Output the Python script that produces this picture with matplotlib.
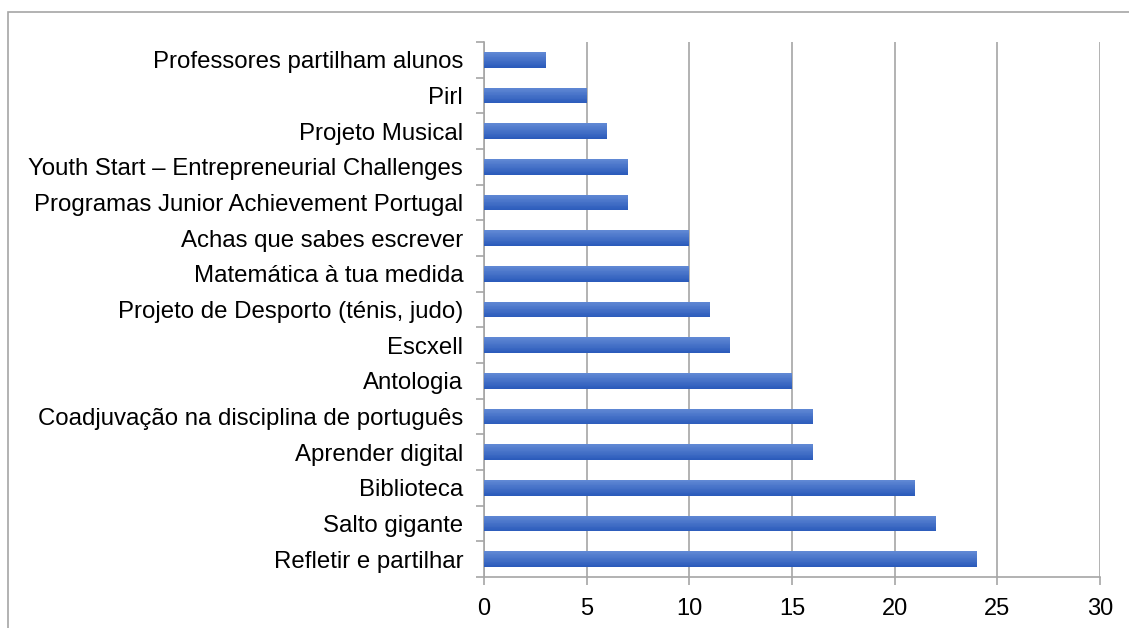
import matplotlib
matplotlib.use("Agg")
import matplotlib.pyplot as plt
import numpy as np
from matplotlib.patches import Rectangle
from matplotlib.colors import LinearSegmentedColormap

categories = [
    "Professores partilham alunos",
    "Pirl",
    "Projeto Musical",
    "Youth Start – Entrepreneurial Challenges",
    "Programas Junior Achievement Portugal",
    "Achas que sabes escrever",
    "Matemática à tua medida",
    "Projeto de Desporto (ténis, judo)",
    "Escxell",
    "Antologia",
    "Coadjuvação na disciplina de português",
    "Aprender digital",
    "Biblioteca",
    "Salto gigante",
    "Refletir e partilhar",
]
values = [3, 5, 6, 7, 7, 10, 10, 11, 12, 15, 16, 16, 21, 22, 24]
xticks = [0, 5, 10, 15, 20, 25, 30]

plt.rcParams['font.family'] = ['Liberation Sans', 'DejaVu Sans']

W, H = 1129, 628
fig = plt.figure(figsize=(W/100, H/100), dpi=100)
ax = fig.add_axes([484/W, 1-577/H, (1100-484)/W, (577-42)/H])

n = len(categories)
ypos = np.arange(n)
bh = 0.44
bars = ax.barh(ypos, values, height=bh, color='#4472c4', zorder=3)

# gradient fill: lighter at visual top (smaller y, axis inverted), darker at bottom
cmap = LinearSegmentedColormap.from_list('g', ['#6088d4', '#2b5bbb'])
m = 20
for b in bars:
    x0, y0 = b.get_x(), b.get_y()
    w, h = b.get_width(), b.get_height()
    b.set_alpha(0)
    for k in range(m):
        ax.barh(y0 + (k + 0.5) * h / m, w, left=x0, height=h / m * 1.05,
                color=cmap(k / (m - 1)), linewidth=0, zorder=4)

ax.set_ylim(n - 0.5, -0.5)
ax.set_xlim(0, 30)
ax.set_xticks(xticks)
ax.set_xticklabels([str(t) for t in xticks], fontsize=17)
ax.set_yticks(ypos)
ax.set_yticklabels(categories, fontsize=17.3)
ax.tick_params(axis='y', which='major', length=0, pad=15)
ax.set_yticks(np.arange(-0.5, n + 0.5, 1), minor=True)
ax.tick_params(axis='y', which='minor', length=6, color='#a6a6a6', width=1.2)
ax.tick_params(axis='x', which='major', length=6, color='#a6a6a6', width=1.2, pad=9)

ax.grid(axis='x', color='#a6a6a6', linewidth=1.2, zorder=0)
for s in ['top', 'right']:
    ax.spines[s].set_visible(False)
for s in ['left', 'bottom']:
    ax.spines[s].set_color('#a6a6a6')
    ax.spines[s].set_linewidth(1.2)

fig.patches.append(Rectangle((8/W, -0.1), 1.2, 1 - 12/H + 0.1, transform=fig.transFigure,
                             fill=False, edgecolor='#a6a6a6', linewidth=1.2))

fig.savefig('out.png', dpi=100)
